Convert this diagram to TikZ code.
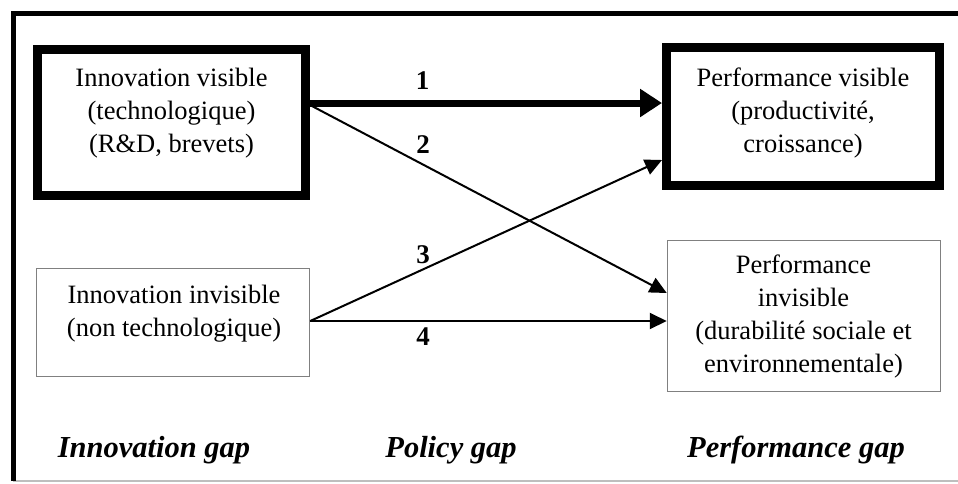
\documentclass[tikz,border=0pt]{standalone}
\usepackage{fontspec}
\setmainfont{Liberation Serif}
\usetikzlibrary{arrows.meta}
\definecolor{boxgray}{RGB}{128,128,128}
\definecolor{linegray}{RGB}{190,190,190}
\tikzset{
  thickbox/.style={draw=black, line width=9pt, inner sep=0pt, fill=none},
  thinbox/.style={draw=boxgray, line width=1.5pt, inner sep=0pt},
  boxtext/.style={align=center, inner sep=0pt, font=\fontsize{26.5}{33}\selectfont},
  numlabel/.style={anchor=base, inner sep=0pt, font=\fontsize{27}{33}\selectfont\bfseries},
  gaplabel/.style={anchor=base, inner sep=0pt, font=\fontsize{30.5}{36}\selectfont\bfseries\itshape},
  thinarrow/.style={line width=2pt, -{Triangle[length=17pt, width=16pt]}},
  thickarrow/.style={line width=7pt, -{Triangle[length=22pt, width=27pt]}}
}
\begin{document}
\begin{tikzpicture}[x=1pt, y=-1pt]
\useasboundingbox (0,0) rectangle (958,483);
% frame
\coordinate (ftl) at (13,13);
\coordinate (ftr) at (958,13);
\coordinate (fbl) at (13,481);
\coordinate (fbr) at (958,481);
\draw[linegray, line width=1.5pt] (fbl) -- (fbr);
\draw[black, line width=5pt] (ftr) -- (ftl) -- (fbl);
% boxes
\node[thickbox, minimum width=268pt, minimum height=146pt] (b1) at (171.5,122.5) {};
\node[thickbox, minimum width=273pt, minimum height=138pt] (b2) at (803,116.5) {};
\node[thinbox, minimum width=273pt, minimum height=108pt] (b3) at (173,322.5) {};
\node[thinbox, minimum width=273pt, minimum height=151pt] (b4) at (804,316) {};
% box texts
\node[boxtext] (t1) at (171.5,113) {Innovation visible\\(technologique)\\(R\&D, brevets)};
\node[boxtext] (t2) at (803,113) {Performance visible\\(productivité,\\croissance)};
\node[boxtext] (t3) at (174,313.5) {Innovation invisible\\(non technologique)};
\node[boxtext] (t4) at (803.5,316) {Performance\\invisible\\(durabilité sociale et\\environnementale)};
% arrows
\draw[thickarrow] ([yshift=19.5pt]b1.east) -- ([yshift=13.5pt]b2.west);
\draw[thinarrow] ([yshift=17.5pt]b1.east) -- ([yshift=23pt]b4.west);
\draw[thinarrow] ([yshift=1.5pt]b3.east) -- ([yshift=-43.5pt]b2.west);
\draw[thinarrow] ([yshift=1.5pt]b3.east) -- ([yshift=-5pt]b4.west);
% numbers
\node[numlabel] (n1) at (422.5,89) {1};
\node[numlabel] (n2) at (423,153) {2};
\node[numlabel] (n3) at (423,263) {3};
\node[numlabel] (n4) at (423,345) {4};
% gap labels
\node[gaplabel] (g1) at (154,457) {Innovation gap};
\node[gaplabel] (g2) at (451,457) {Policy gap};
\node[gaplabel] (g3) at (796,457) {Performance gap};
\end{tikzpicture}
\end{document}
